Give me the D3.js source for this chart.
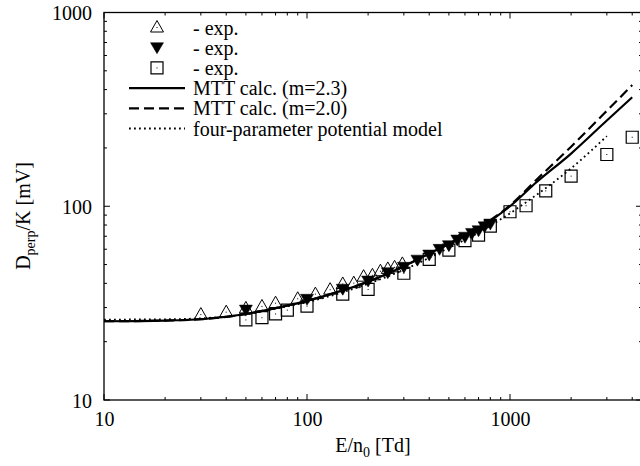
<!DOCTYPE html>
<html><head><meta charset="utf-8">
<script src="https://cdn.jsdelivr.net/npm/d3@7"></script>
<style>body{margin:0;background:#fff}svg text{font-family:"Liberation Serif","Times New Roman",serif;fill:#000}</style>
</head><body><svg id="c" width="640" height="466"></svg>
<script>
// ---- data ----
const xTickLabels = [10, 100, 1000];
const yTickLabels = [10, 100, 1000];
const legendLabels = ["- exp.", "- exp.", "- exp.", "MTT calc. (m=2.3)", "MTT calc. (m=2.0)", "four-parameter potential model"];

const expTriUpE = [30, 40, 50, 60, 70, 90, 110, 130, 150, 170, 190, 210, 230, 250, 270, 295];
const expTriUpD = [27.6, 28.4, 29.7, 30.4, 31.6, 33.3, 35.2, 37.1, 39.7, 40.1, 43.3, 44.0, 46.2, 47.5, 48.4, 50.4];

const expTriDnE = [50, 100, 150, 200, 250, 300, 350, 400, 450, 500, 550, 600, 650, 700, 750, 800];
const expTriDnD = [29.1, 33.1, 37.3, 41.1, 45.4, 48.4, 52.7, 56.0, 59.9, 62.6, 66.9, 69.2, 72.4, 74.7, 78.3, 80.9];

const expSqE = [50, 60, 70, 80, 100, 150, 200, 300, 400, 500, 600, 700, 800, 1000, 1200, 1500, 2000, 3000, 4000];
const expSqD = [25.9, 26.6, 27.8, 29.1, 30.5, 35.2, 37.2, 45.1, 53.2, 59.4, 66.4, 71.0, 79.0, 93.7, 100.6, 120, 143, 185, 227];

const curveE = [10, 20, 30, 50, 70, 100, 150, 200, 300, 400, 500, 700, 1000, 1350, 2000, 2900, 4000];
const mtt23D = [25.5, 25.7, 26.1, 27.8, 29.8, 32.5, 36.8, 40.8, 49.0, 57.0, 64.0, 77.0, 100, 133, 187, 268, 365];
const mtt20D = [25.5, 25.7, 26.1, 27.8, 29.8, 32.5, 36.8, 40.8, 49.0, 57.0, 64.2, 77.5, 101, 137, 203, 300, 422];
const fourParE = [10, 20, 30, 50, 70, 100, 150, 200, 300, 500, 700, 1000, 1250, 2000, 3000];
const fourParD = [26.0, 26.1, 26.4, 27.7, 29.6, 32.0, 36.0, 39.8, 47.0, 61.0, 73.0, 92.0, 108, 157, 230];

// ---- layout ----
const L = 104, R = 642, T = 12.5, B = 400;
const svg = d3.select("#c");
const x = d3.scaleLog().domain([10, Math.pow(10, 1 + (R - L) / 203)]).range([L, R]);
const y = d3.scaleLog().domain([10, 1000]).range([B, T]);

// ticks
const xMaj = [10, 100, 1000], yMaj = [10, 100, 1000];
const xMin = [], yMin = [];
[10, 100, 1000].forEach(d => { for (let k = 2; k <= 9; k++) { if (d * k <= x.domain()[1]) xMin.push(d * k); } });
[10, 100].forEach(d => { for (let k = 2; k <= 9; k++) yMin.push(d * k); });

const g = svg.append("g");
// frame
g.append("rect").attr("x", L).attr("y", T).attr("width", R - L).attr("height", B - T)
  .attr("fill", "none").attr("stroke", "#000").attr("stroke-width", 1.3);

function tickLines(vals, len, axis) {
  vals.forEach(v => {
    if (axis === "x") {
      const px = x(v);
      g.append("line").attr("x1", px).attr("x2", px).attr("y1", B).attr("y2", B - len).attr("stroke", "#000");
      g.append("line").attr("x1", px).attr("x2", px).attr("y1", T).attr("y2", T + len).attr("stroke", "#000");
    } else {
      const py = y(v);
      g.append("line").attr("y1", py).attr("y2", py).attr("x1", L).attr("x2", L + len).attr("stroke", "#000");
      g.append("line").attr("y1", py).attr("y2", py).attr("x1", R).attr("x2", R - len).attr("stroke", "#000");
    }
  });
}
tickLines(xMaj, 6, "x"); tickLines(xMin, 3, "x");
tickLines(yMaj, 6, "y"); tickLines(yMin, 3, "y");

// tick labels via axis generators
const xAxisG = svg.append("g").attr("transform", `translate(0,${B})`)
  .call(d3.axisBottom(x).tickValues(xTickLabels).tickFormat(d => String(d)).tickSize(0).tickPadding(12));
xAxisG.select(".domain").remove();
xAxisG.selectAll("text").attr("font-size", 20).attr("font-family", "Liberation Serif").attr("dy", "0.71em");
const yAxisG = svg.append("g").attr("transform", `translate(${L},0)`)
  .call(d3.axisLeft(y).tickValues(yTickLabels).tickFormat(d => String(d)).tickSize(0).tickPadding(12));
yAxisG.select(".domain").remove();
yAxisG.selectAll("text").attr("font-size", 20).attr("font-family", "Liberation Serif").attr("dy", "0.35em");

// axis titles
const xt = svg.append("text").attr("x", 373).attr("y", 452).attr("text-anchor", "middle").attr("font-size", 20);
xt.append("tspan").text("E/n");
xt.append("tspan").attr("font-size", 14).attr("dy", 5).text("0");
xt.append("tspan").attr("dy", -5).text(" [Td]");
const yt = svg.append("text").attr("transform", "translate(30,216) rotate(-90)").attr("text-anchor", "middle").attr("font-size", 20);
yt.append("tspan").text("D");
yt.append("tspan").attr("font-size", 14).attr("dy", 5).text("perp");
yt.append("tspan").attr("dy", -5).text("/K [mV]");

// clip
svg.append("clipPath").attr("id", "clip").append("rect").attr("x", L).attr("y", T).attr("width", R - L).attr("height", B - T);
const plot = svg.append("g").attr("clip-path", "url(#clip)");

const line = d3.line().x(d => x(d[0])).y(d => y(d[1])).curve(d3.curveMonotoneX);
plot.append("path").datum(curveE.map((e, i) => [e, mtt23D[i]])).attr("d", line)
  .attr("fill", "none").attr("stroke", "#000").attr("stroke-width", 2.2);
plot.append("path").datum(curveE.map((e, i) => [e, mtt20D[i]])).attr("d", line)
  .attr("fill", "none").attr("stroke", "#000").attr("stroke-width", 2.2).attr("stroke-dasharray", "10,5");
plot.append("path").datum(fourParE.map((e, i) => [e, fourParD[i]])).attr("d", line)
  .attr("fill", "none").attr("stroke", "#000").attr("stroke-width", 1.8).attr("stroke-dasharray", "1.8,3.2");

// markers
const triUp = "M0,-7L6.5,4.5L-6.5,4.5Z";
const triDn = "M0,6L-6.5,-5L6.5,-5Z";
const sq = "M-6,-6H6V6H-6Z";
function marker(gp, px, py, type) {
  if (type === 0) {
    gp.append("path").attr("d", triUp).attr("transform", `translate(${px},${py})`).attr("fill", "none").attr("stroke", "#000").attr("stroke-width", 1);
    gp.append("rect").attr("x", px - 0.5).attr("y", py - 0.5).attr("width", 1).attr("height", 1).attr("fill", "#000");
  } else if (type === 1) {
    gp.append("path").attr("d", triDn).attr("transform", `translate(${px},${py})`).attr("fill", "#000").attr("stroke", "#000").attr("stroke-width", 0.5);
  } else {
    gp.append("path").attr("d", sq).attr("transform", `translate(${px},${py})`).attr("fill", "none").attr("stroke", "#000").attr("stroke-width", 1.2);
    gp.append("rect").attr("x", px - 0.5).attr("y", py - 0.5).attr("width", 1).attr("height", 1).attr("fill", "#000");
  }
}
const mg = plot.append("g");
expTriUpE.forEach((e, i) => marker(mg, x(e), y(expTriUpD[i]), 0));
expTriDnE.forEach((e, i) => marker(mg, x(e), y(expTriDnD[i]), 1));
expSqE.forEach((e, i) => marker(mg, x(e), y(expSqD[i]), 2));

// legend
const lg = svg.append("g");
const rowY = i => 27.5 + i * 20.2;
legendLabels.forEach((t, i) => {
  const cy = rowY(i);
  if (i < 3) marker(lg, 157, cy, i);
  else {
    const ln = lg.append("line").attr("x1", 129).attr("x2", 185).attr("y1", cy).attr("y2", cy).attr("stroke", "#000");
    if (i === 3) ln.attr("stroke-width", 2.2);
    if (i === 4) ln.attr("stroke-width", 2.2).attr("stroke-dasharray", "10,5");
    if (i === 5) ln.attr("stroke-width", 1.8).attr("stroke-dasharray", "1.8,3.2");
  }
  lg.append("text").attr("x", 193).attr("y", cy + 7).attr("font-size", 20).text(t);
});
</script></body></html>
